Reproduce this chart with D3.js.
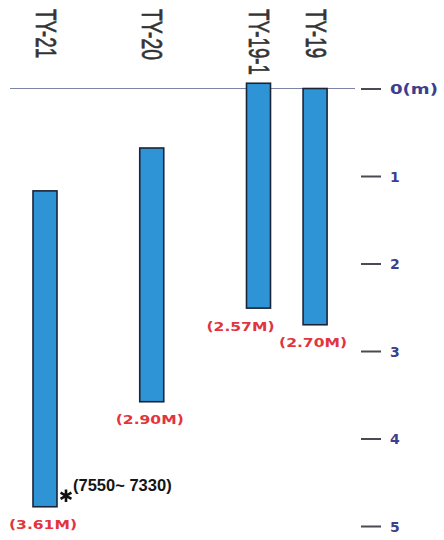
<!DOCTYPE html>
<html>
<head>
<meta charset="utf-8">
<script src="https://cdn.jsdelivr.net/npm/d3@7"></script>
<style>
  html, body { margin: 0; padding: 0; background: #fff; }
  svg { display: block; }
</style>
</head>
<body>
<svg id="chart" width="444" height="540"></svg>
<script>
// ---- data ----
const boreholes = ["TY-21", "TY-20", "TY-19-1", "TY-19"];
const topDepth  = [1.17, 0.68, -0.06, 0.0];      // m below reference level
const coreLength = [3.61, 2.90, 2.57, 2.70];      // m
const lengthLabels = ["(3.61M)", "(2.90M)", "(2.57M)", "(2.70M)"];
const depthTicks = [0, 1, 2, 3, 4, 5];
const depthTickLabels = ["0(m)", "1", "2", "3", "4", "5"];
const annotationText = "(7550~ 7330)";
const annotatedBorehole = "TY-21";

// ---- layout (not data) ----
const slots = [0, 1, 2, 2.53];
const labelShift = { "TY-19-1": -16 };
const titleLen = { "TY-21": 49, "TY-20": 51, "TY-19-1": 66, "TY-19": 49 };

const svg = d3.select("#chart");
const y = d3.scaleLinear().domain([0, 5]).range([88.5, 526]);
const x = d3.scaleLinear().domain([0, 2]).range([45, 258.5]);
const barW = 24;

const rows = boreholes.map((b, i) => ({
  name: b, top: topDepth[i], bottom: topDepth[i] + coreLength[i],
  label: lengthLabels[i], slot: slots[i]
}));

// reference line
svg.append("line")
  .attr("x1", 10).attr("x2", 355)
  .attr("y1", y(0)).attr("y2", y(0))
  .attr("stroke", "#7c84a8").attr("stroke-width", 1.2);

// bars
svg.selectAll("rect.bar").data(rows).join("rect")
  .attr("class", "bar")
  .attr("x", d => x(d.slot) - barW / 2)
  .attr("y", d => y(d.top))
  .attr("width", barW)
  .attr("height", d => y(d.bottom) - y(d.top))
  .attr("fill", "#2e94d6")
  .attr("stroke", "#1b2436")
  .attr("stroke-width", 1.6);

// borehole titles (rotated)
svg.selectAll("text.title").data(rows).join("text")
  .attr("class", "title")
  .attr("transform", d => `translate(${x(d.slot) + 1},9) rotate(90)`)
  .attr("dy", "0.36em")
  .attr("text-anchor", "start")
  .attr("font-family", "'Liberation Sans Narrow', 'Liberation Sans', Arial, sans-serif")
  .attr("font-size", 29)
  .attr("fill", "#333")
  .attr("stroke", "#333")
  .attr("stroke-width", 0.7)
  .attr("textLength", d => titleLen[d.name])
  .attr("lengthAdjust", "spacingAndGlyphs")
  .text(d => d.name);

// length labels
svg.selectAll("text.len").data(rows).join("text")
  .attr("class", "len")
  .attr("x", d => x(d.slot) - 2 + (labelShift[d.name] || 0))
  .attr("y", d => y(d.bottom) + 22.5)
  .attr("text-anchor", "middle")
  .attr("font-family", "'DejaVu Sans', sans-serif")
  .attr("font-weight", "bold")
  .attr("font-size", 12.5)
  .attr("fill", "#e2343f")
  .attr("textLength", 68)
  .attr("lengthAdjust", "spacingAndGlyphs")
  .text(d => d.label);

// right depth axis
const axis = d3.axisRight(y)
  .tickValues(depthTicks)
  .tickSize(20)
  .tickPadding(9)
  .tickFormat((d, i) => depthTickLabels[i]);
const ag = svg.append("g").attr("transform", "translate(361,0)").call(axis);
ag.select(".domain").remove();
ag.selectAll(".tick line").attr("stroke", "#4a4a52").attr("stroke-width", 2);
ag.selectAll(".tick text")
  .attr("font-family", "'DejaVu Sans', sans-serif")
  .attr("font-weight", "bold")
  .attr("font-size", 14)
  .attr("fill", "#3b3f8e")
  .attr("dy", "0.36em")
  .each(function (d) {
    if (d === 0) d3.select(this).attr("textLength", 48).attr("lengthAdjust", "spacingAndGlyphs");
  });

// annotation at TY-21 bottom
const ar = rows.find(r => r.name === annotatedBorehole);
const arRight = x(ar.slot) + barW / 2;
svg.append("path")
  .attr("d", d3.symbol(d3.symbolAsterisk, 110)())
  .attr("transform", `translate(${arRight + 9},${y(ar.bottom) - 11})`)
  .attr("fill", "none")
  .attr("stroke", "#111")
  .attr("stroke-width", 2.6);
svg.append("text")
  .attr("x", arRight + 16)
  .attr("y", y(ar.bottom) - 15.5)
  .attr("font-family", "'Liberation Sans', Arial, sans-serif")
  .attr("font-weight", "bold")
  .attr("font-size", 16.5)
  .attr("fill", "#151515")
  .text(annotationText);
</script>
</body>
</html>
